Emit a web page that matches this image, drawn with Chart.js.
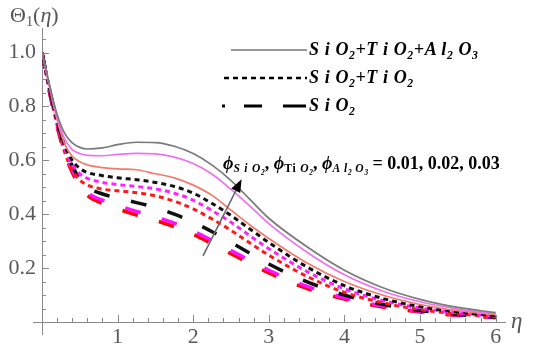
<!DOCTYPE html>
<html>
<head>
<meta charset="utf-8">
<script src="https://cdn.jsdelivr.net/npm/chart.js@4.4.0/dist/chart.umd.min.js"></script>
<style>
html,body{margin:0;padding:0;background:#fff;}
#wrap{position:relative;width:541px;height:349px;overflow:hidden;background:#fff;}
#c{position:absolute;left:0;top:0;}
.t{position:absolute;font-family:"Liberation Serif","Times New Roman",Times,serif;white-space:nowrap;line-height:1;}
.t sub{font-size:0.65em;vertical-align:baseline;position:relative;top:0.3em;}
.leg{font-weight:bold;font-style:italic;font-size:18px;color:#000;letter-spacing:0.6px;}
.ann{font-weight:bold;font-size:18px;color:#000;}
.ann i{font-style:italic;}
.ann sub{font-style:italic;letter-spacing:0.8px;font-size:0.64em;}
.ann sub sub{letter-spacing:0;}
</style>
</head>
<body>
<div id="wrap">
<canvas id="c" width="541" height="349"></canvas>
<div class="t" style="left:10px;top:4px;font-size:22px;color:#555;">Θ<sub>1</sub>(<i>η</i>)</div>
<div class="t" style="left:511px;top:309px;font-size:23px;color:#555;"><i>η</i></div>
<div class="t leg" style="left:309px;top:40px;">S i O<sub>2</sub>+T i O<sub>2</sub>+A l<sub>2</sub> O<sub>3</sub></div>
<div class="t leg" style="left:309px;top:68px;">S i O<sub>2</sub>+T i O<sub>2</sub></div>
<div class="t leg" style="left:309px;top:96px;">S i O<sub>2</sub></div>
<div class="t ann" style="left:223px;top:154px;"><i>ϕ</i><sub>S i O<sub>2</sub></sub>, <i>ϕ</i><sub style="font-style:normal">Ti <i>O</i><sub>2</sub></sub>, <i>ϕ</i><sub>A l<sub>2</sub> O<sub>3</sub></sub> = 0.01, 0.02, 0.03<span style="font-size:9px;color:#999;font-weight:normal">.</span></div>
</div>
<script>
// ---- data ----
const eta = [0, 0.1, 0.2, 0.3, 0.4, 0.5, 0.6, 0.8, 1.0, 1.25, 1.5, 1.75, 2.0, 2.25, 2.5, 2.75, 3.0, 3.5, 4.0, 4.5, 5.0, 5.5, 6.0];

// SiO2+TiO2+Al2O3 (solid), phi = 0.01 (red), 0.02 (magenta), 0.03 (black)
const triRed     = [1, 0.87, 0.75, 0.66, 0.615, 0.595, 0.583, 0.573, 0.568, 0.565, 0.55, 0.535, 0.508, 0.47, 0.415, 0.36, 0.31, 0.22, 0.15, 0.1, 0.065, 0.042, 0.027];
const triMagenta = [1, 0.875, 0.76, 0.68, 0.64, 0.625, 0.618, 0.617, 0.622, 0.626, 0.624, 0.612, 0.588, 0.548, 0.492, 0.43, 0.365, 0.26, 0.175, 0.115, 0.075, 0.048, 0.031];
const triBlack   = [1, 0.88, 0.77, 0.70, 0.665, 0.648, 0.642, 0.646, 0.658, 0.667, 0.666, 0.652, 0.625, 0.582, 0.525, 0.455, 0.385, 0.28, 0.192, 0.128, 0.084, 0.054, 0.035];

// SiO2+TiO2 (dotted)
const duoRed     = [1, 0.855, 0.73, 0.63, 0.565, 0.527, 0.508, 0.493, 0.487, 0.48, 0.468, 0.448, 0.42, 0.382, 0.34, 0.293, 0.248, 0.17, 0.11, 0.072, 0.046, 0.03, 0.019];
const duoMagenta = [1, 0.86, 0.74, 0.645, 0.585, 0.55, 0.533, 0.518, 0.51, 0.503, 0.494, 0.478, 0.452, 0.413, 0.37, 0.32, 0.272, 0.188, 0.123, 0.08, 0.052, 0.034, 0.022];
const duoBlack   = [1, 0.865, 0.745, 0.655, 0.6, 0.57, 0.555, 0.543, 0.535, 0.528, 0.518, 0.503, 0.478, 0.44, 0.395, 0.345, 0.295, 0.205, 0.135, 0.088, 0.057, 0.037, 0.024];

// SiO2 (dashed)
const monoRed     = [1, 0.85, 0.725, 0.625, 0.555, 0.505, 0.47, 0.44, 0.42, 0.397, 0.377, 0.354, 0.325, 0.29, 0.253, 0.217, 0.182, 0.125, 0.085, 0.056, 0.037, 0.024, 0.016];
const monoMagenta = [1, 0.855, 0.73, 0.635, 0.565, 0.515, 0.48, 0.452, 0.433, 0.41, 0.39, 0.367, 0.338, 0.302, 0.265, 0.228, 0.192, 0.133, 0.09, 0.06, 0.04, 0.026, 0.017];
const monoBlack   = [1, 0.86, 0.74, 0.645, 0.58, 0.53, 0.5, 0.475, 0.46, 0.443, 0.425, 0.4, 0.37, 0.335, 0.295, 0.255, 0.215, 0.15, 0.1, 0.066, 0.043, 0.028, 0.018];

const xTickValues = [1, 2, 3, 4, 5, 6];
const yTickValues = [0.2, 0.4, 0.6, 0.8, 1.0];

// ---- styling ----
const axisColor = '#8a8a8a';
const labelColor = '#5a5a5a';
const serifFont = '"Liberation Serif", "Times New Roman", Times, serif';

function pts(arr){ return eta.map((x, i) => ({x: x, y: arr[i]})); }

function solid(arr, color){
  return {data: pts(arr), borderColor: color, borderWidth: 1.7, pointRadius: 0, cubicInterpolationMode: 'monotone', fill: false};
}
function dotted(arr, color){
  return {data: pts(arr), borderColor: color, borderWidth: 3, borderDash: [5, 4], pointRadius: 0, cubicInterpolationMode: 'monotone', fill: false};
}
function dashed(arr, color){
  return {data: pts(arr), borderColor: color, borderWidth: 3.5, borderDash: [16, 22], borderDashOffset: 0, pointRadius: 0, cubicInterpolationMode: 'monotone', fill: false};
}

const extras = {
  id: 'extras',
  afterDatasetsDraw(chart){
    const ctx = chart.ctx;
    const xs = chart.scales.x, ys = chart.scales.y;
    const X0 = xs.getPixelForValue(0), Y0 = ys.getPixelForValue(0);
    ctx.save();
    ctx.strokeStyle = axisColor;
    ctx.lineWidth = 1;
    // axis extensions past the origin
    ctx.beginPath();
    ctx.moveTo(X0 - 9, Y0 + 0.5); ctx.lineTo(X0, Y0 + 0.5);
    ctx.moveTo(X0 + 0.5, Y0); ctx.lineTo(X0 + 0.5, Y0 + 13);
    ctx.stroke();
    // inward ticks
    ctx.beginPath();
    for (let k = 1; k <= 30; k++) {
      const v = k / 5;
      const px = Math.round(xs.getPixelForValue(v)) + 0.5;
      const len = (k % 5 === 0) ? 7 : 4;
      ctx.moveTo(px, Y0); ctx.lineTo(px, Y0 - len);
    }
    for (let k = 1; k <= 21; k++) {
      const v = k / 20;
      const py = Math.round(ys.getPixelForValue(v)) + 0.5;
      const len = (k % 4 === 0) ? 7 : 4;
      ctx.moveTo(X0, py); ctx.lineTo(X0 + len, py);
    }
    ctx.stroke();

    // arrow (data coordinates)
    const ax1 = xs.getPixelForValue(2.13), ay1 = ys.getPixelForValue(0.245);
    const ax2 = xs.getPixelForValue(2.64), ay2 = ys.getPixelForValue(0.53);
    const ang = Math.atan2(ay2 - ay1, ax2 - ax1);
    const hl = 13, hw = 5;
    ctx.strokeStyle = '#6a6a6a';
    ctx.lineWidth = 1.6;
    ctx.beginPath();
    ctx.moveTo(ax1, ay1);
    ctx.lineTo(ax2 - hl * Math.cos(ang), ay2 - hl * Math.sin(ang));
    ctx.stroke();
    ctx.fillStyle = '#000';
    ctx.beginPath();
    ctx.moveTo(ax2, ay2);
    ctx.lineTo(ax2 - hl * Math.cos(ang) + hw * Math.sin(ang), ay2 - hl * Math.sin(ang) - hw * Math.cos(ang));
    ctx.lineTo(ax2 - hl * Math.cos(ang) - hw * Math.sin(ang), ay2 - hl * Math.sin(ang) + hw * Math.cos(ang));
    ctx.closePath();
    ctx.fill();

    // legend samples
    ctx.lineCap = 'butt';
    ctx.strokeStyle = '#777';
    ctx.lineWidth = 1.7;
    ctx.setLineDash([]);
    ctx.beginPath(); ctx.moveTo(231, 50); ctx.lineTo(307, 50); ctx.stroke();
    ctx.strokeStyle = '#000';
    ctx.lineWidth = 2.5;
    ctx.setLineDash([5, 4]);
    ctx.beginPath(); ctx.moveTo(224, 78); ctx.lineTo(307, 78); ctx.stroke();
    ctx.setLineDash([]);
    ctx.lineWidth = 3;
    ctx.beginPath();
    ctx.moveTo(222, 106); ctx.lineTo(225, 106);
    ctx.moveTo(244, 106); ctx.lineTo(262, 106);
    ctx.moveTo(283, 106); ctx.lineTo(306, 106);
    ctx.stroke();
    ctx.restore();
  }
};

new Chart(document.getElementById('c'), {
  type: 'line',
  data: {
    datasets: [
      solid(triBlack, '#7a7a7a'),
      solid(triMagenta, '#ee72ee'),
      solid(triRed, '#f27a6c'),
      dotted(duoBlack, '#111111'),
      dotted(duoMagenta, '#ff22ff'),
      dotted(duoRed, '#ff1a1a'),
      dashed(monoBlack, '#111111'),
      dashed(monoMagenta, '#ff11ff'),
      dashed(monoRed, '#ff0000')
    ]
  },
  options: {
    responsive: false,
    animation: false,
    devicePixelRatio: 1,
    layout: {padding: {top: 28, right: 36, left: 0, bottom: 0}},
    plugins: {legend: {display: false}, tooltip: {enabled: false}},
    scales: {
      x: {
        type: 'linear', min: 0, max: 6.124,
        afterFit(s){ s.height = 27; },
        grid: {display: false},
        border: {display: true, color: axisColor, width: 1},
        ticks: {
          includeBounds: false, stepSize: 1, autoSkip: false, maxRotation: 0, padding: -6,
          color: labelColor, font: {family: serifFont, size: 22},
          callback: v => xTickValues.includes(v) ? String(v) : ''
        }
      },
      y: {
        type: 'linear', min: 0, max: 1.091,
        afterFit(s){ s.width = 42; },
        grid: {display: false},
        border: {display: true, color: axisColor, width: 1},
        ticks: {
          includeBounds: false, stepSize: 0.2, autoSkip: false, padding: -2,
          color: labelColor, font: {family: serifFont, size: 22},
          callback: v => yTickValues.some(t => Math.abs(t - v) < 1e-6) ? v.toFixed(1) : ''
        }
      }
    }
  },
  plugins: [extras]
});
</script>
</body>
</html>
